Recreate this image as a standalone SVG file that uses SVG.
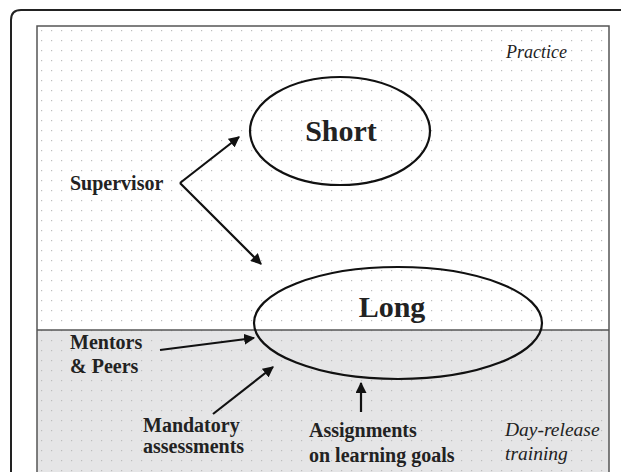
<svg xmlns="http://www.w3.org/2000/svg" width="621" height="472" viewBox="0 0 621 472">
<defs>
<pattern id="dots" width="10" height="10" patternUnits="userSpaceOnUse" x="37" y="26">
<rect x="4" y="4" width="1.2" height="1.2" fill="#bdbdbd"/>
</pattern>
<marker id="ah" viewBox="0 0 10 10" refX="9" refY="5" markerWidth="5" markerHeight="5" orient="auto" markerUnits="strokeWidth">
<path d="M0,0 L10,5 L0,10 z" fill="#111"/>
</marker>
<style>
.b{font-family:"Liberation Serif","Times New Roman",serif;font-weight:bold;fill:#222;}
.i{font-family:"Liberation Serif","Times New Roman",serif;font-style:italic;fill:#222;}
.lbl{font-size:20px;}
.big{font-size:30px;}
.ell{fill:none;stroke:#111;stroke-width:2.2;}
.con{stroke:#111;stroke-width:2.2;fill:none;marker-end:url(#ah);}
</style>
</defs>
<rect x="0" y="0" width="621" height="472" fill="#fff"/>
<g id="frame">
<path d="M11,482 L11,20 Q11,10 21,10 L631,10" fill="none" stroke="#222" stroke-width="2"/>
<rect x="37" y="26" width="572" height="304" fill="#fff"/>
<rect x="37" y="330" width="572" height="152" fill="#e5e5e6"/>
<rect x="37" y="26" width="572" height="456" fill="url(#dots)"/>
<rect x="37" y="26" width="572" height="456" fill="none" stroke="#555" stroke-width="1.5"/>
<line x1="37" y1="330" x2="609" y2="330" stroke="#555" stroke-width="1.5"/>
</g>
<g id="practice"><text class="i" x="567" y="58" text-anchor="end" font-size="18">Practice</text></g>
<g id="dayrelease"><text class="i" x="505" y="436" font-size="19.5">Day-release</text><text class="i" x="505" y="460" font-size="19.5">training</text></g>
<g id="short">
<ellipse class="ell" cx="340" cy="131" rx="90" ry="54"/>
<text class="b big" x="341" y="141" text-anchor="middle">Short</text>
</g>
<g id="long">
<ellipse class="ell" cx="398" cy="323" rx="144" ry="56"/>
<text class="b big" x="392" y="317" text-anchor="middle">Long</text>
</g>
<g id="supervisor"><text class="b lbl" x="70" y="190">Supervisor</text></g>
<g id="mentors"><text class="b lbl" x="70" y="349">Mentors</text><text class="b lbl" x="70" y="373">&amp; Peers</text></g>
<g id="mandatory"><text class="b lbl" x="143" y="432">Mandatory</text><text class="b lbl" x="143" y="453">assessments</text></g>
<g id="assignments"><text class="b lbl" x="309" y="437">Assignments</text><text class="b lbl" x="309" y="462">on learning goals</text></g>
<g id="connectors">
<path class="con" d="M180,183 L239,137"/>
<path class="con" d="M180,183 L261,264"/>
<path class="con" d="M160,350 L254,338"/>
<path class="con" d="M213,414 L273,367"/>
<path class="con" d="M361,412 L361,383"/>
</g>
</svg>
